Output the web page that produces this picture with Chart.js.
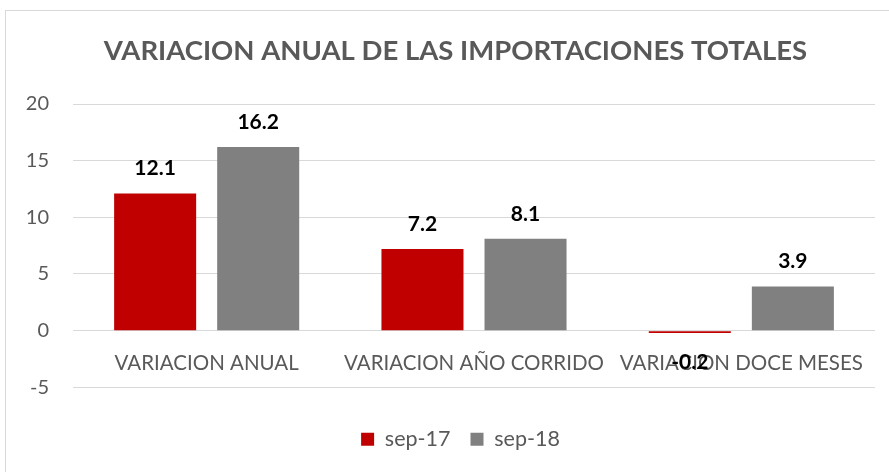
<!DOCTYPE html>
<html>
<head>
<meta charset="utf-8">
<script src="https://cdn.jsdelivr.net/npm/chart.js@4.4.1/dist/chart.umd.min.js"></script>
<style>
  html, body { margin: 0; padding: 0; background: #fff; overflow: hidden; }
  #wrap { position: absolute; left: 5px; top: 10px; width: 902px; height: 470px; border: 1px solid #d9d9d9; box-sizing: border-box; }
  canvas { display: block; }
</style>
</head>
<body>
<div id="wrap"><canvas id="chart" width="900" height="468"></canvas></div>
<script>
// datos del gráfico
const categorias = ['VARIACION ANUAL', 'VARIACION AÑO CORRIDO', 'VARIACION DOCE MESES'];
const series = ['sep-17', 'sep-18'];
const valoresSep17 = [12.1, 7.2, -0.2];
const valoresSep18 = [16.2, 8.1, 3.9];

const gris = '#595959';
const fuente = "Lato, 'Liberation Sans', sans-serif";

// etiquetas de valor sobre/bajo cada barra
const etiquetas = {
  id: 'etiquetas',
  afterDatasetsDraw(chart) {
    const { ctx } = chart;
    ctx.save();
    ctx.font = `bold 21px ${fuente}`;
    ctx.fillStyle = '#000';
    ctx.textAlign = 'center';
    ctx.textBaseline = 'middle';
    chart.data.datasets.forEach((ds, i) => {
      chart.getDatasetMeta(i).data.forEach((bar, j) => {
        const v = ds.data[j];
        const y = v >= 0 ? bar.y - 25 : bar.y + 29;
        ctx.fillText(v.toFixed(1), bar.x, y);
      });
    });
    ctx.restore();
  }
};

// el título y la leyenda van algo más a la derecha que el área del gráfico
const desplazar = {
  id: 'desplazar',
  afterLayout(chart) {
    chart.titleBlock.left += 10;
    chart.titleBlock.right += 10;
    chart.legend.left += 15;
    chart.legend.right += 15;
  }
};

new Chart(document.getElementById('chart'), {
  type: 'bar',
  data: {
    labels: categorias,
    datasets: [
      { label: series[0], data: valoresSep17, backgroundColor: '#C00000', categoryPercentage: 0.771, barPercentage: 0.796 },
      { label: series[1], data: valoresSep18, backgroundColor: '#808080', categoryPercentage: 0.771, barPercentage: 0.796 }
    ]
  },
  options: {
    responsive: false,
    animation: false,
    layout: { padding: { left: 10, right: 31, top: 0, bottom: 19 } },
    plugins: {
      title: {
        display: true,
        text: 'VARIACION ANUAL DE LAS IMPORTACIONES TOTALES',
        color: gris,
        font: { family: fuente, size: 27.5, weight: 'bold' },
        padding: { top: 24, bottom: 36 }
      },
      legend: {
        position: 'bottom',
        title: { display: true, text: '', font: { size: 1 }, padding: { top: 20, bottom: 0 } },
        labels: {
          color: gris,
          font: { family: fuente, size: 21.5 },
          boxWidth: 13,
          boxHeight: 13,
          padding: 20
        }
      },
      tooltip: { enabled: false }
    },
    scales: {
      x: {
        position: { y: 0 },
        grid: { display: false },
        border: { display: false },
        ticks: { color: gris, font: { family: fuente, size: 20.5 }, padding: 12, maxRotation: 0 }
      },
      y: {
        min: -5,
        max: 20,
        grid: { color: '#d9d9d9', drawTicks: false },
        border: { display: false },
        ticks: { stepSize: 5, color: gris, font: { family: fuente, size: 20 }, padding: 24 },
        afterFit(scale) { scale.width = 57; }
      }
    }
  },
  plugins: [etiquetas, desplazar]
});
</script>
</body>
</html>
